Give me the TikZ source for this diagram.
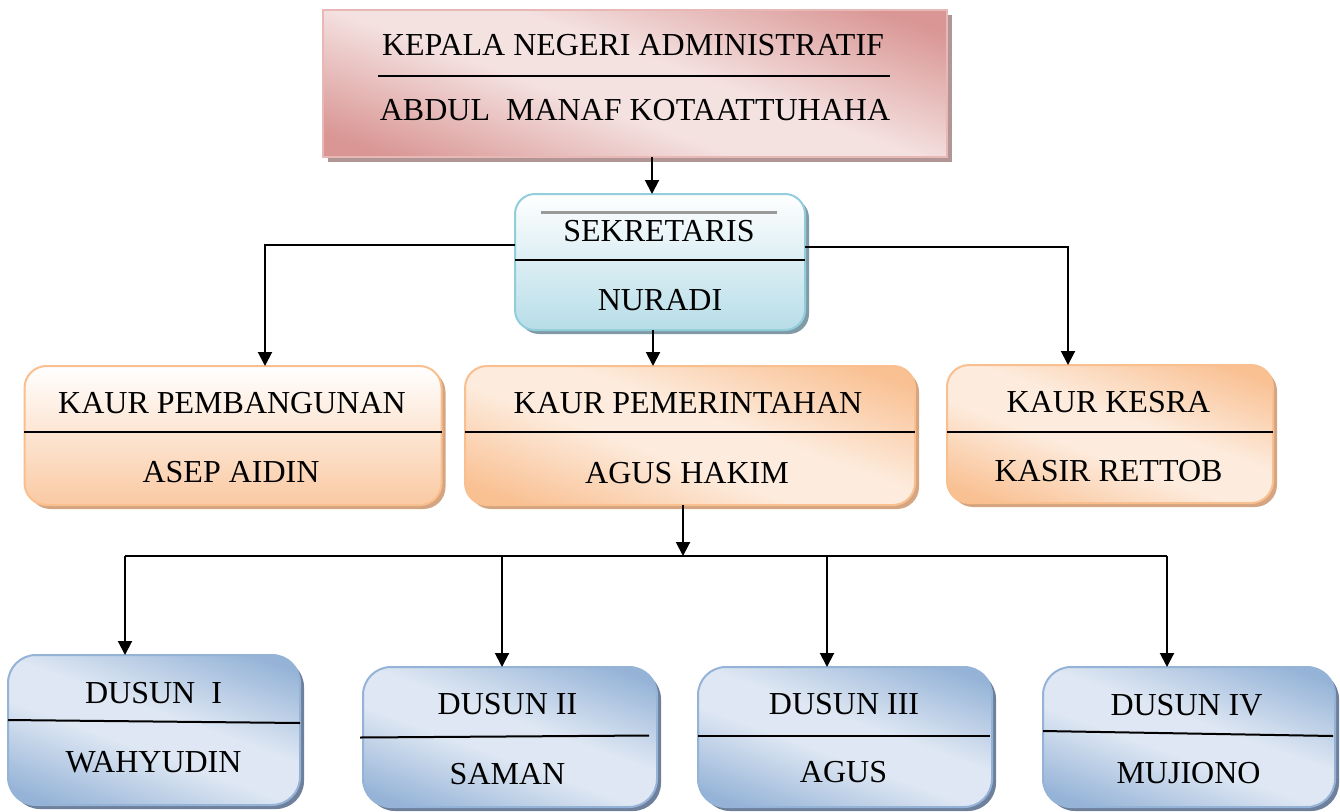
\documentclass[tikz,border=0pt]{standalone}
\usepackage{fontspec}
\setmainfont{Liberation Serif}
\usetikzlibrary{arrows.meta,shadows}
\definecolor{pinkD}{RGB}{217,150,148}
\definecolor{pinkL}{RGB}{244,226,225}
\definecolor{pinkB}{RGB}{232,184,183}
\definecolor{pinkS}{RGB}{178,150,150}
\definecolor{cyanD}{RGB}{183,221,232}
\definecolor{cyanB}{RGB}{146,205,220}
\definecolor{cyanS}{RGB}{128,155,165}
\definecolor{oraD}{RGB}{249,192,146}
\definecolor{oraL}{RGB}{253,236,222}
\definecolor{oraB}{RGB}{250,191,143}
\definecolor{oraS}{RGB}{212,165,128}
\definecolor{bluD}{RGB}{149,179,215}
\definecolor{bluL}{RGB}{222,231,243}
\definecolor{bluB}{RGB}{149,179,215}
\definecolor{bluS}{RGB}{110,128,155}
\pgfdeclareverticalshading{pinkdiag}{100bp}{color(0bp)=(pinkD); color(22bp)=(pinkD); color(44bp)=(pinkL); color(55bp)=(pinkL); color(78bp)=(pinkD); color(100bp)=(pinkD)}
\pgfdeclareverticalshading{oradiag}{100bp}{color(0bp)=(oraD); color(22bp)=(oraD); color(44bp)=(oraL); color(55bp)=(oraL); color(78bp)=(oraD); color(100bp)=(oraD)}
\pgfdeclareverticalshading{bludiag}{100bp}{color(0bp)=(bluD); color(22bp)=(bluD); color(44bp)=(bluL); color(55bp)=(bluL); color(78bp)=(bluD); color(100bp)=(bluD)}
\begin{document}
\begin{tikzpicture}[x=1pt,y=-1pt,
  every node/.style={font=\fontsize{32}{38}\selectfont, inner sep=0pt, outer sep=0pt},
  basebox/.style={draw, line width=2pt},
  kepalabox/.style={basebox, draw=pinkB, shade, shading=pinkdiag, shading angle=-20,
    drop shadow={shadow xshift=5pt, shadow yshift=-5pt, fill=pinkS, opacity=1}},
  sekbox/.style={basebox, draw=cyanB, rounded corners=20pt, top color=white, bottom color=cyanD,
    drop shadow={shadow xshift=4pt, shadow yshift=-4pt, fill=cyanS, opacity=1}},
  kaurbox/.style={basebox, draw=oraB, rounded corners=22pt, shade, shading=oradiag, shading angle=-20,
    drop shadow={shadow xshift=4pt, shadow yshift=-4pt, fill=oraS, opacity=1}},
  kaurvbox/.style={basebox, draw=oraB, rounded corners=22pt, top color=white, bottom color=oraD!85,
    drop shadow={shadow xshift=4pt, shadow yshift=-4pt, fill=oraS, opacity=1}},
  dusunbox/.style={basebox, draw=bluB, rounded corners=28pt, shade, shading=bludiag, shading angle=-20,
    drop shadow={shadow xshift=4pt, shadow yshift=-4pt, fill=bluS, opacity=1}},
  divider/.style={line width=2pt, black},
  conn/.style={line width=2pt, black},
  arr/.style={conn, -{Triangle[width=14pt,length=14pt]}}
]
\useasboundingbox (0,0) rectangle (1340,811);

% Kepala
\node[kepalabox, minimum width=624pt, minimum height=147pt] (kepala) at (635,83.5) {};
\draw[divider] (378,76) -- (890,76);
\node (kepalaT) at (633,45) {KEPALA NEGERI ADMINISTRATIF};
\node (kepalaB) at (635,110) {ABDUL\ \ MANAF KOTAATTUHAHA};

% Sekretaris
\node[sekbox, minimum width=290pt, minimum height=136pt] (sek) at (660,262) {};
\draw[line width=3pt, color=black!40] (541,212) -- (777,212);
\draw[divider] (515,260) -- (805,260);
\node (sekT) at (659,231) {SEKRETARIS};
\node (sekB) at (660,300) {NURADI};

% Kaur boxes
\node[kaurvbox, minimum width=417pt, minimum height=139pt] (kpb) at (233,435.5) {};
\draw[divider] (24,432) -- (442,432);
\node (kpbT) at (232,403.5) {KAUR PEMBANGUNAN};
\node (kpbB) at (231,472.5) {ASEP AIDIN};

\node[kaurbox, minimum width=450pt, minimum height=139pt] (kpm) at (690,435.5) {};
\draw[divider] (465,432) -- (915,432);
\node (kpmT) at (688,403) {KAUR PEMERINTAHAN};
\node (kpmB) at (687,473) {AGUS HAKIM};

\node[kaurbox, minimum width=326pt, minimum height=138pt] (kes) at (1110,434) {};
\draw[divider] (947,432) -- (1273,432);
\node (kesT) at (1108.5,402.5) {KAUR KESRA};
\node (kesB) at (1108.5,471) {KASIR RETTOB};

% Dusun boxes
\node[dusunbox, minimum width=292pt, minimum height=150pt] (d1) at (154,730) {};
\draw[divider] (8,720) -- (300,723);
\node (d1T) at (153.5,693) {DUSUN\ \ I};
\node (d1B) at (153.5,762) {WAHYUDIN};

\node[dusunbox, minimum width=294pt, minimum height=140pt] (d2) at (510,737) {};
\draw[divider] (360,737.5) -- (649,735.5);
\node (d2T) at (507.5,704) {DUSUN II};
\node (d2B) at (507.5,774) {SAMAN};

\node[dusunbox, minimum width=294pt, minimum height=140pt] (d3) at (845,737) {};
\draw[divider] (698,736) -- (990,736);
\node (d3T) at (844,704) {DUSUN III};
\node (d3B) at (843.5,772.5) {AGUS};

\node[dusunbox, minimum width=292pt, minimum height=140pt] (d4) at (1189,737) {};
\draw[divider] (1043,731) -- (1333,736);
\node (d4T) at (1186.5,705) {DUSUN IV};
\node (d4B) at (1188.5,773) {MUJIONO};

% Connectors
\coordinate (jL) at (265,245);
\coordinate (jR) at (1068,247);
\coordinate (vT) at (652,0);
\coordinate (vM) at (653,0);
\coordinate (bus) at (683,556);
\coordinate (b1) at (125,556);
\coordinate (b2) at (502,556);
\coordinate (b3) at (827,556);
\coordinate (b4) at (1167,556);

\draw[arr] (kepala.south -| vT) -- (sek.north -| vT);
\draw[arr] (sek.west |- jL) -- (jL) -- (kpb.north -| jL);
\draw[arr] (sek.east |- jR) -- (jR) -- (kes.north -| jR);
\draw[arr] (sek.south -| vM) -- (kpm.north -| vM);
\draw[arr] (kpm.south -| bus) -- (bus);
\draw[conn] (b1) -- (b4);
\draw[arr] (b1) -- (d1.north -| b1);
\draw[arr] (b2) -- (d2.north -| b2);
\draw[arr] (b3) -- (d3.north -| b3);
\draw[arr] (b4) -- (d4.north -| b4);
\end{tikzpicture}
\end{document}
